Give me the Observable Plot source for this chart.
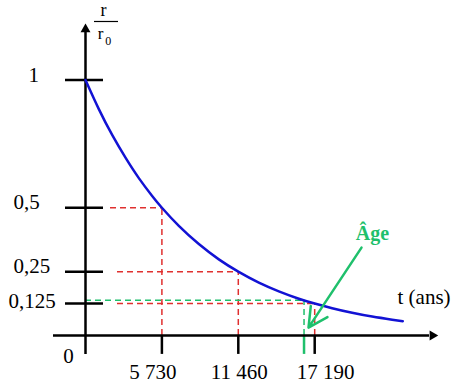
<!DOCTYPE html>
<html>
<head>
<meta charset="utf-8">
<script src="https://cdn.jsdelivr.net/npm/d3@7"></script>
<script src="https://cdn.jsdelivr.net/npm/@observablehq/plot@0.6"></script>
<style>
  html, body { margin: 0; padding: 0; background: #fff; }
  svg, svg text { font-family: "Liberation Serif", "Times New Roman", serif !important; }
</style>
</head>
<body>
<div id="chart"></div>
<script>
// ---- data ----
const curveT = [0, 1000, 2000, 3000, 4000, 5000, 5730, 7000, 8500, 10000, 11460, 13000, 14500, 16000, 17190, 18500, 20000, 21500, 23000, 23800];
const curveR = [1, 0.886, 0.785, 0.696, 0.616, 0.546, 0.5, 0.429, 0.358, 0.298, 0.25, 0.207, 0.173, 0.144, 0.125, 0.107, 0.089, 0.074, 0.062, 0.056];

const tTicks = [5730, 11460, 17190];
const tLabels = ["5 730", "11 460", "17 190"];
const rTicks = [1, 0.5, 0.25, 0.125];
const rLabels = ["1", "0,5", "0,25", "0,125"];
const halfRatios = [0.5, 0.25, 0.125];
const dashStart = [1875, 2400, 2400];

const ageT = 16390;
const ageR = 0.138;

const arrowFrom = [20700, 0.344];
const arrowTo = [16725, 0.031];

const blue = "#1212d4", red = "#e0302f", green = "#1fc06c";
const serif = "Liberation Serif";
const curve = curveT.map((t, i) => ({t, r: curveR[i]}));
const idx = d3.range(tTicks.length);

const chart = Plot.plot({
  width: 456,
  height: 385,
  margin: 0,
  style: {fontFamily: serif, background: "#fff"},
  x: {domain: [0, 5730], range: [85, 161.4], axis: null},
  y: {domain: [0, 1], range: [335, 79.5], axis: null},
  marks: [
    // red dashed guides
    Plot.ruleY(idx, {y: i => halfRatios[i], x1: i => dashStart[i], x2: i => tTicks[i], stroke: red, strokeWidth: 1.5, strokeDasharray: "6,4"}),
    Plot.ruleX(idx, {x: i => tTicks[i], y1: 0, y2: i => halfRatios[i], stroke: red, strokeWidth: 1.5, strokeDasharray: "6,4"}),
    // green dashed guides
    Plot.ruleY([ageR], {x1: 0, x2: ageT, stroke: green, strokeWidth: 1.5, strokeDasharray: "6,4"}),
    Plot.ruleX([ageT], {y1: 0, y2: ageR, stroke: green, strokeWidth: 1.5, strokeDasharray: "6,4"}),
    Plot.ruleX([ageT], {y1: -0.074, y2: 0, stroke: green, strokeWidth: 2.5}),
    // axes
    Plot.ruleY([0], {x1: -2400, x2: 25800, stroke: "#000", strokeWidth: 2.5}),
    Plot.ruleX([0], {y1: -0.0744, y2: 1.19, stroke: "#000", strokeWidth: 2.5}),
    Plot.dot([[26025, 0]], {x: d => d[0], y: d => d[1], symbol: "triangle", r: 3.7, fill: "#000", rotate: 90}),
    Plot.dot([[0, 1.1985]], {x: d => d[0], y: d => d[1], symbol: "triangle", r: 3.7, fill: "#000"}),
    // ticks
    Plot.ruleY(rTicks, {x1: -1500, x2: 1350, stroke: "#000", strokeWidth: 2.5}),
    Plot.ruleX(tTicks, {y1: 0, y2: -0.074, stroke: "#000", strokeWidth: 2.5}),
    // decay curve
    Plot.line(curve, {x: "t", y: "r", curve: "natural", stroke: blue, strokeWidth: 2.5}),
    // age arrow
    Plot.arrow([0], {x1: arrowFrom[0], y1: arrowFrom[1], x2: arrowTo[0], y2: arrowTo[1], stroke: green, strokeWidth: 2.5, headLength: 13, headAngle: 55}),
    Plot.text(["Âge"], {x: 21525, y: 0.399, text: d => d, fill: green, fontWeight: "bold", fontSize: 20, fontFamily: serif, textAnchor: "middle"}),
    // x tick labels
    Plot.text([0], {x: tTicks[0], y: -0.1448, text: () => tLabels[0], fontSize: 21, fontFamily: serif, dx: -9}),
    Plot.text([1], {x: tTicks[1], y: -0.1448, text: () => tLabels[1], fontSize: 21, fontFamily: serif, dx: 1}),
    Plot.text([2], {x: tTicks[2], y: -0.1448, text: () => tLabels[2], fontSize: 21, fontFamily: serif, dx: 11}),
    Plot.text(["0"], {x: -1275, y: -0.082, text: d => d, fontSize: 21, fontFamily: serif}),
    // y tick labels
    Plot.text([0], {x: -5400, y: rTicks[0], text: () => rLabels[0], fontSize: 21, fontFamily: serif, textAnchor: "start", dx: 15, dy: -5}),
    Plot.text([1, 2], {x: -5400, y: i => rTicks[i], text: i => rLabels[i], fontSize: 21, fontFamily: serif, textAnchor: "start", dy: -5}),
    Plot.text([3], {x: -5400, y: rTicks[3], text: () => rLabels[3], fontSize: 21, fontFamily: serif, textAnchor: "start", dx: -5, dy: -2}),
    // axis titles
    Plot.text(["t (ans)"], {x: 23400, y: 0.1487, text: d => d, fontSize: 21, fontFamily: serif, textAnchor: "start"}),
    Plot.text(["r"], {x: 1350, y: 1.274, text: d => d, fontSize: 18, fontFamily: serif}),
    Plot.ruleY([1.229], {x1: 675, x2: 2475, stroke: "#000", strokeWidth: 1.2}),
    Plot.text(["r"], {x: 1125, y: 1.18, text: d => d, fontSize: 17, fontFamily: serif}),
    Plot.text(["0"], {x: 1700, y: 1.151, text: d => d, fontSize: 12, fontFamily: "Liberation Sans"})
  ]
});
document.getElementById("chart").appendChild(chart);
</script>
</body>
</html>
